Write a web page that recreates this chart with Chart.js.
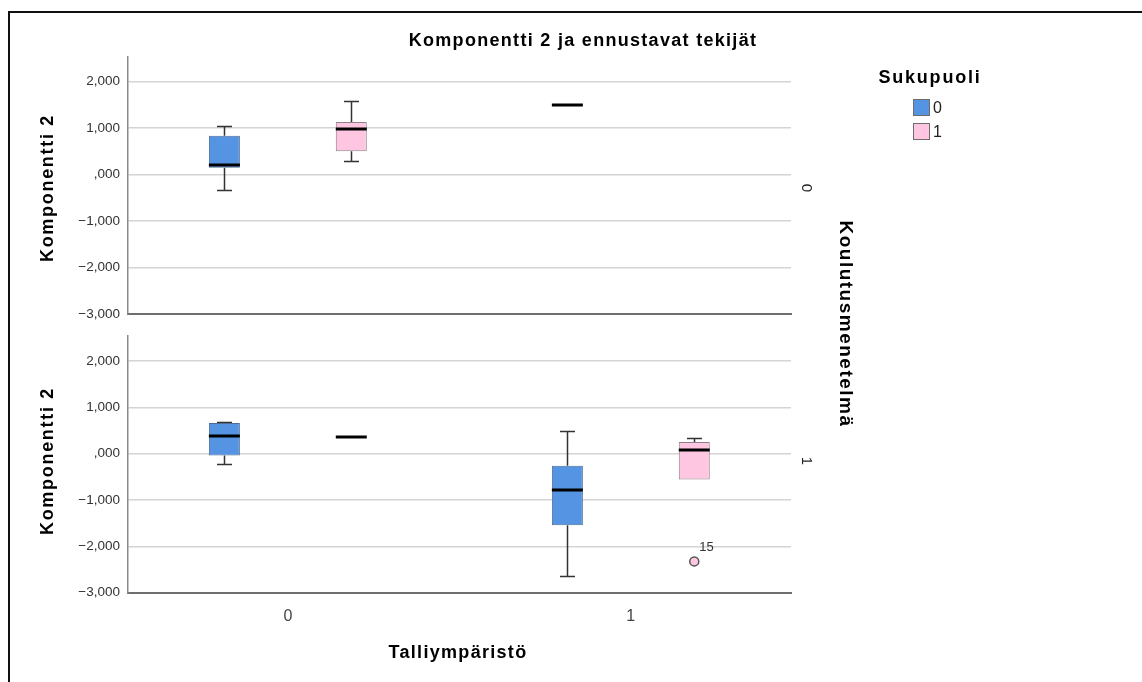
<!DOCTYPE html>
<html>
<head>
<meta charset="utf-8">
<script src="https://cdn.jsdelivr.net/npm/chart.js@4/dist/chart.umd.min.js"></script>
<style>
  html, body { margin: 0; padding: 0; background: #fff; }
  body { width: 1142px; height: 682px; position: relative; overflow: hidden;
         font-family: "Liberation Sans", Arial, sans-serif; color: #000; }
  canvas { position: absolute; left: 0; }
  .frame { position: absolute; left: 8px; top: 11px; width: 1140px; height: 680px;
           border-left: 2px solid #111; border-top: 2px solid #111; }
  .t { position: absolute; white-space: nowrap; transform: translate(-50%, -50%); }
  .b { font-weight: bold; }
  .sw { position: absolute; width: 15px; height: 15px; border: 1px solid #6d6d6d; }
</style>
</head>
<body>
<div class="frame"></div>
<canvas id="topPanel" width="1142" height="330" style="top:0"></canvas>
<canvas id="bottomPanel" width="1142" height="362" style="top:320px"></canvas>

<div class="t b" style="left:583px;top:40px;font-size:18px;letter-spacing:1.3px">Komponentti 2 ja ennustavat tekijät</div>
<div class="t b" style="left:47px;top:188px;font-size:18px;letter-spacing:1.7px;transform:translate(-50%,-50%) rotate(-90deg)">Komponentti 2</div>
<div class="t b" style="left:47px;top:461px;font-size:18px;letter-spacing:1.7px;transform:translate(-50%,-50%) rotate(-90deg)">Komponentti 2</div>
<div class="t" id="panel0" style="left:807px;top:188px;font-size:15px;color:#222;transform:translate(-50%,-50%) rotate(90deg)"></div>
<div class="t" id="panel1" style="left:807px;top:461px;font-size:15px;color:#222;transform:translate(-50%,-50%) rotate(90deg)"></div>
<div class="t b" style="left:846px;top:324px;font-size:19px;letter-spacing:1.5px;transform:translate(-50%,-50%) rotate(90deg)">Koulutusmenetelmä</div>
<div class="t b" style="left:458px;top:652px;font-size:18px;letter-spacing:1.3px">Talliympäristö</div>

<div class="t b" style="left:930px;top:77px;font-size:18px;letter-spacing:1.8px">Sukupuoli</div>
<div id="legend"></div>

<script>
// Talliympäristö (x categories)
const talliCats = [0, 1];
const talliLabels = ["0", "1"];

// Sukupuoli (clustered groups)
const sukuLabels = ["0", "1"];
const sukuColors = ["#5594e3", "#ffc6e1"];

// Koulutusmenetelmä (panels)
const panelLabels = ["0", "1"];

// [min, Q1, median, Q3, max] for Talliympäristö 0 and 1, null = no cases
const k0Suku0 = [[-0.325, 0.148, 0.203, 0.835, 1.046], [1.490, 1.490, 1.490, 1.490, 1.490]];
const k0Suku1 = [[0.302, 0.506, 0.983, 1.131, 1.582], null];
const k1Suku0 = [[-0.211, -0.036, 0.392, 0.665, 0.695], [-2.640, -1.545, -0.787, -0.261, 0.497]];
const k1Suku1 = [[0.357, 0.357, 0.357, 0.357, 0.357], [-0.556, -0.556, 0.090, 0.253, 0.337]];

// outliers (Koulutusmenetelmä 1, Sukupuoli 1)
const outlierCat = [1];
const outlierVal = [-2.324];
const outlierCase = ["15"];

const yTicks = [-3, -2, -1, 0, 1, 2];
const yTickLabels = ["\u22123,000", "\u22122,000", "\u22121,000", ",000", "1,000", "2,000"];

const dodge = 0.185;   // group offset inside a category (x units)
const FONT = "'Liberation Sans', Arial, sans-serif";

/* ---------- whiskers, medians, outlier ids ---------- */
const boxParts = {
  id: "boxParts",
  beforeDatasetsDraw(chart, args, opts) {
    const {ctx, scales: {x, y}} = chart;
    ctx.save();
    ctx.strokeStyle = "#333";
    ctx.lineWidth = 1.5;
    opts.boxes.forEach(b => {
      const px = Math.round(x.getPixelForValue(b.x)) + 0.5;
      const [lo, q1, , q3, hi] = b.s;
      ctx.beginPath();
      if (hi > q3) {
        const yh = Math.round(y.getPixelForValue(hi)) + 0.5;
        ctx.moveTo(px, y.getPixelForValue(q3)); ctx.lineTo(px, yh);
        ctx.moveTo(px - 7.5, yh); ctx.lineTo(px + 7.5, yh);
      }
      if (lo < q1) {
        const yl = Math.round(y.getPixelForValue(lo)) + 0.5;
        ctx.moveTo(px, y.getPixelForValue(q1)); ctx.lineTo(px, yl);
        ctx.moveTo(px - 7.5, yl); ctx.lineTo(px + 7.5, yl);
      }
      ctx.stroke();
    });
    ctx.restore();
  },
  afterDatasetsDraw(chart, args, opts) {
    const {ctx, scales: {x, y}} = chart;
    ctx.save();
    ctx.strokeStyle = "#000";
    ctx.lineWidth = 3;
    opts.boxes.forEach(b => {
      const px = x.getPixelForValue(b.x);
      const py = Math.round(y.getPixelForValue(b.s[2]));
      ctx.beginPath();
      ctx.moveTo(px - 15.5, py); ctx.lineTo(px + 15.5, py);
      ctx.stroke();
    });
    ctx.fillStyle = "#333";
    ctx.font = "13px " + FONT;
    ctx.textAlign = "left";
    ctx.textBaseline = "middle";
    (opts.ids || []).forEach(o => {
      ctx.fillText(o.text, x.getPixelForValue(o.x) + 5, y.getPixelForValue(o.y) - 14);
    });
    ctx.restore();
  }
};

function makePanel(canvasId, groups, padTop, xHeight, showX, withOutliers) {
  const boxes = [];
  const datasets = groups.map((g, gi) => {
    const data = [];
    g.forEach((s, ci) => {
      if (!s) return;
      const xv = talliCats[ci] + (gi === 0 ? -dodge : dodge);
      boxes.push({x: xv, s: s});
      if (s[3] > s[1]) data.push({x: xv, y: [s[1], s[3]]});
    });
    return {
      type: "bar",
      label: sukuLabels[gi],
      data: data,
      backgroundColor: sukuColors[gi],
      borderColor: gi === 0 ? "#4a6c95" : "#8f8089",
      borderWidth: 1,
      borderSkipped: false,
      grouped: false,
      maxBarThickness: 31
    };
  });

  const ids = [];
  if (withOutliers) {
    const pts = outlierCat.map((c, i) => ({x: c + dodge, y: outlierVal[i]}));
    outlierCat.forEach((c, i) => ids.push({x: c + dodge, y: outlierVal[i], text: outlierCase[i]}));
    datasets.push({
      type: "scatter",
      data: pts,
      pointRadius: 4.5,
      pointBackgroundColor: sukuColors[1],
      pointBorderColor: "#555",
      pointBorderWidth: 1.5
    });
  }

  return new Chart(document.getElementById(canvasId), {
    type: "bar",
    data: {datasets: datasets},
    plugins: [boxParts],
    options: {
      responsive: false,
      animation: false,
      events: [],
      layout: {padding: {top: padTop, right: 351, left: 0, bottom: 0}},
      plugins: {
        legend: {display: false},
        tooltip: {enabled: false},
        boxParts: {boxes: boxes, ids: ids}
      },
      scales: {
        x: {
          type: "linear",
          offset: false,
          min: -0.466, max: 1.467,
          afterBuildTicks: s => { s.ticks = talliCats.map(v => ({value: v})); },
          afterFit: s => { s.height = xHeight; },
          grid: {display: false, drawTicks: false},
          border: {display: true, color: "#6e6e6e", width: 2},
          ticks: {
            display: showX,
            callback: (v, i) => talliLabels[i],
            font: {family: FONT, size: 16},
            color: "#444",
            padding: 14
          }
        },
        y: {
          min: -3, max: 2.54,
          afterBuildTicks: s => { s.ticks = yTicks.map(v => ({value: v})); },
          afterFit: s => { s.width = 128; },
          grid: {color: "#d4d4d4", lineWidth: 1.5, drawTicks: false},
          border: {color: "#8a8a8a", width: 1.5},
          ticks: {
            callback: (v, i) => yTickLabels[i],
            font: {family: FONT, size: 13.5},
            color: "#333",
            padding: 8
          }
        }
      }
    }
  });
}

makePanel("topPanel", [k0Suku0, k0Suku1], 56.7, 10.7, false, false);
makePanel("bottomPanel", [k1Suku0, k1Suku1], 9.3, 89.3, true, true);

document.getElementById("panel0").textContent = panelLabels[0];
document.getElementById("panel1").textContent = panelLabels[1];

// legend
const legend = document.getElementById("legend");
sukuLabels.forEach((lab, i) => {
  const top = 99 + i * 23.5;
  legend.innerHTML +=
    `<div class="sw" style="left:913px;top:${top}px;background:${sukuColors[i]}"></div>` +
    `<div style="position:absolute;left:933px;top:${top}px;font-size:16px;line-height:17px;color:#222">${lab}</div>`;
});
</script>
</body>
</html>
